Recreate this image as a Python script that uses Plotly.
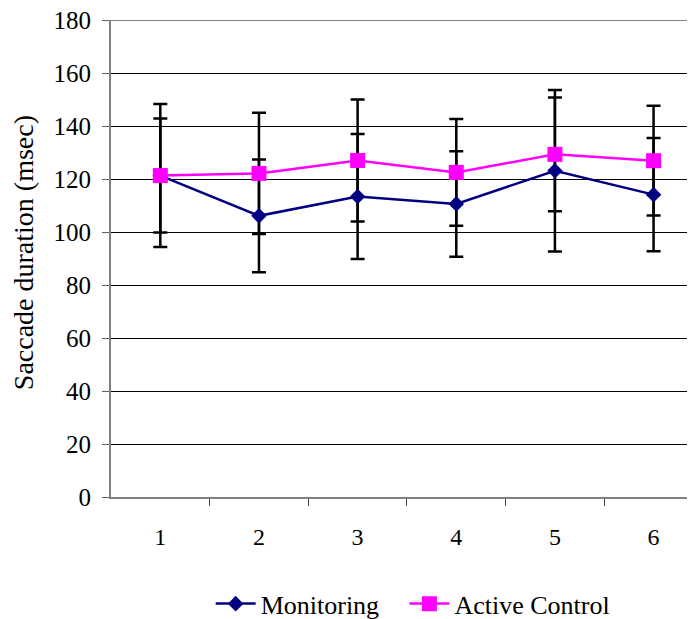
import plotly.graph_objects as go

sessions = [1, 2, 3, 4, 5, 6]
tick_labels = ["1", "2", "3", "4", "5", "6"]
monitoring = [121.3, 106.1, 113.4, 110.6, 123.1, 114.1]
monitoring_err = [21.5, 21.3, 23.6, 19.9, 30.5, 21.4]
active = [121.3, 122.1, 127.0, 122.5, 129.3, 126.9]
active_err = [27.0, 22.9, 23.0, 20.1, 21.5, 20.7]
y_ticks = [0, 20, 40, 60, 80, 100, 120, 140, 160, 180]

FONT = "Liberation Serif"
fig = go.Figure()

# error bars first (below lines and markers)
for vals, errs in [(monitoring, monitoring_err), (active, active_err)]:
    fig.add_trace(go.Scatter(
        x=sessions, y=vals, mode="markers",
        marker=dict(color="rgba(0,0,0,0)", size=1),
        error_y=dict(type="data", array=errs, symmetric=True,
                     color="black", thickness=2.5, width=7),
        showlegend=False, hoverinfo="skip"))

fig.add_trace(go.Scatter(
    x=sessions, y=monitoring, mode="lines+markers", name="Monitoring",
    line=dict(color="#000080", width=2.5),
    marker=dict(symbol="diamond", size=12, color="#000080"),
    legend="legend"))
fig.add_trace(go.Scatter(
    x=sessions, y=active, mode="lines+markers", name="Active Control",
    line=dict(color="#FF00FF", width=2.5),
    marker=dict(symbol="square", size=15, color="#FF00FF"),
    legend="legend2"))

leg_common = dict(orientation="h", xref="container", yref="container",
                  xanchor="left", y=0.025, yanchor="middle",
                  font=dict(family=FONT, size=26), itemwidth=40)

fig.update_layout(
    width=687, height=611,
    margin=dict(l=103, r=0, t=12, b=122),
    plot_bgcolor="white", paper_bgcolor="white",
    font=dict(family=FONT, size=24, color="black"),
    legend=dict(x=0.295, **leg_common),
    legend2=dict(x=0.577, **leg_common),
    annotations=[dict(text="Saccade duration (msec)", textangle=-90,
                      xref="paper", yref="paper", x=-0.15, y=0.512,
                      xanchor="center", yanchor="middle", showarrow=False,
                      font=dict(family=FONT, size=28))],
    # top gridline (plotly omits gridlines at the very edge of the range)
    shapes=[dict(type="line", xref="paper", yref="y", x0=0, x1=1,
                 y0=y_ticks[-1], y1=y_ticks[-1],
                 line=dict(color="#808080", width=2), layer="below")],
)
fig.update_xaxes(
    range=[0.5, 6.42], tickvals=sessions, ticktext=tick_labels,
    ticks="", showgrid=False, zeroline=False,
    showline=True, linecolor="#808080", linewidth=2,
    ticklabelstandoff=17,
    minor=dict(tickvals=[1.5, 2.5, 3.5, 4.5, 5.5], ticks="outside",
               ticklen=7, tickcolor="#404040", tickwidth=1, showgrid=False),
    tickfont=dict(family=FONT, size=24))
fig.update_yaxes(
    range=[0, 180], tickvals=y_ticks,
    ticks="outside", ticklen=7, tickcolor="#606060", tickwidth=1,
    showgrid=True, gridcolor="black", gridwidth=1, zeroline=False,
    showline=True, linecolor="#808080", linewidth=2,
    ticklabelstandoff=6, automargin=False, ticklabeloverflow="allow",
    tickfont=dict(family=FONT, size=25))

fig.write_html("out.html")
